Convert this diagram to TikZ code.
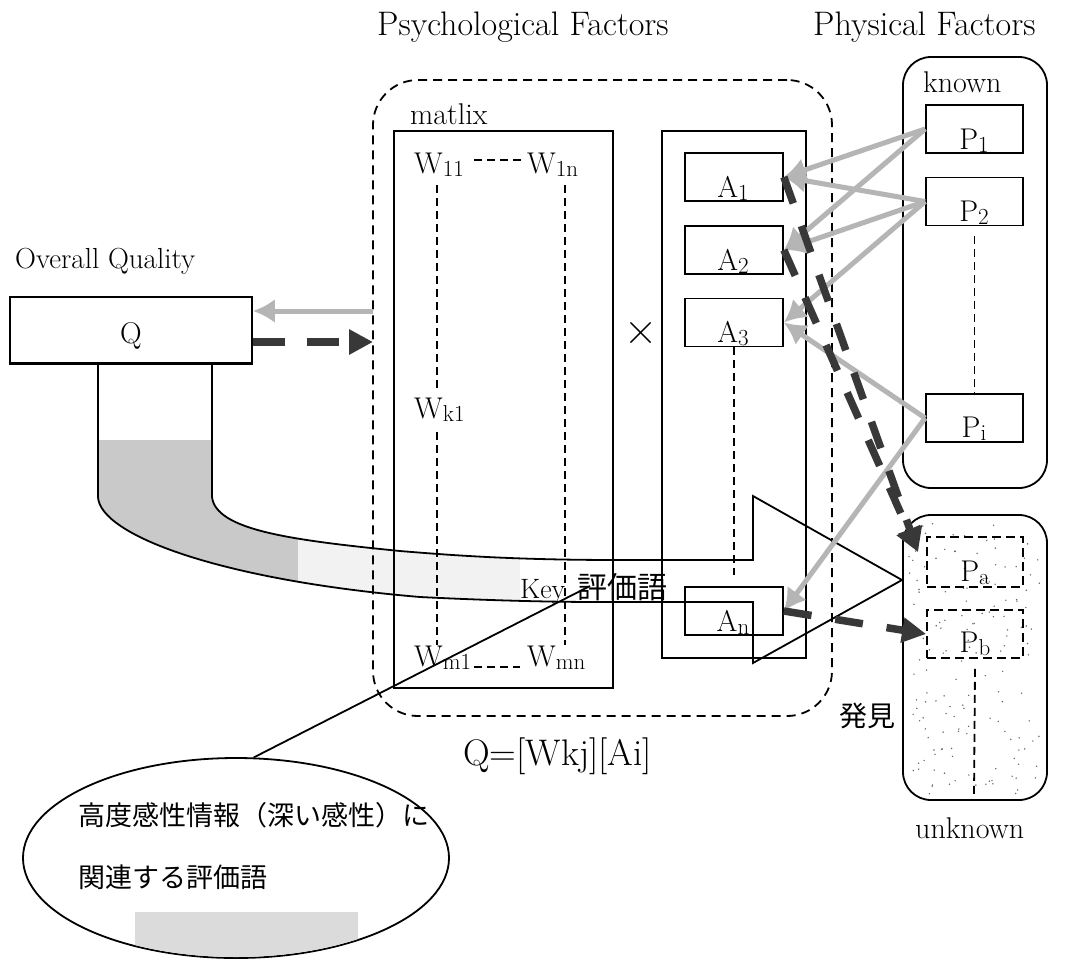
\documentclass[tikz,border=0pt]{standalone}
\usepackage{fontspec}
\newfontfamily\cjk{Noto Sans CJK JP}
\usetikzlibrary{arrows.meta,calc,shapes.geometric}
\newcommand\labfont{\fontsize{30}{34}\selectfont}
\newcommand\hdrfont{\fontsize{34}{38}\selectfont}
\newcommand\mysub[1]{\raisebox{-3pt}{\fontsize{23}{23}\selectfont #1}}
\newcommand\pipeshape{(98,363) -- (98,497) .. controls (100,535) and (220,580) .. (420,597) .. controls (500,601) and (560,602) .. (600,602) -- (753,602) -- (753,663) -- (902,580) -- (753,496) -- (753,560) -- (620,560) .. controls (520,560) and (460,556) .. (400,551) .. controls (290,540) and (216,530) .. (212,497) -- (212,363)}
\begin{document}
\begin{tikzpicture}[x=1pt,y=-1pt,
  box/.style={draw, line width=1.7, inner sep=0},
  dbox/.style={draw, line width=1.8, dash pattern=on 9 off 5, inner sep=0},
  lab/.style={anchor=base, font=\labfont, inner sep=0},
  labw/.style={anchor=base west, font=\labfont, inner sep=0},
  hdr/.style={anchor=base west, font=\hdrfont, inner sep=0},
  thindash/.style={line width=1.5, dash pattern=on 8 off 5},
  garrow/.style={draw=gray!58, line width=5, -{Latex[length=22,width=24]}},
  darrow/.style={draw=black!78, line width=7.5, dash pattern=on 28 off 24, -{Triangle[length=24,width=24]}},
  qdash/.style={draw=black!78, line width=7.5, dash pattern=on 32 off 22, -{Triangle[length=24,width=24]}}
]
\useasboundingbox (0,0) rectangle (1065,962);
\fill[white] (0,0) rectangle (1065,962);

% fills of the pipe
\begin{scope}
  \clip \pipeshape -- cycle;
  \fill[gray!42] (90,440) rectangle (298,640);
  \fill[gray!10] (298,530) rectangle (520,615);
\end{scope}

% dots in unknown box
\pgfmathsetseed{7}
\foreach \k in {1,...,150}{
  \pgfmathsetmacro\xx{909+132*rnd}
  \pgfmathsetmacro\yy{521+273*rnd}
  \fill[black!60] (\xx,\yy) circle (0.8);
}

% headers
\node[hdr] (psyt) at (377,35) {Psychological Factors};
\node[hdr] (phyt) at (813,35) {Physical Factors};
\node[labw, font=\fontsize{29}{34}\selectfont] (oq) at (15,268) {Overall Quality};

% Q box
\node[box, minimum width=242, minimum height=66] (Q) at (131,330) {};
\node[lab] (Qt) at (131,343) {Q};

% psychological container
\node[draw, line width=1.8, dash pattern=on 9 off 6, rounded corners=45, minimum width=459, minimum height=636, inner sep=0] (psy) at (602.5,398) {};
\node[labw] (matt) at (410,124) {matlix};
\node[box, minimum width=219, minimum height=557] (mat) at (503.5,409.5) {};
\node[box, minimum width=144, minimum height=527] (av) at (734,394.5) {};

% W entries
\node[labw] (w11) at (414,173) {W\mysub{11}};
\node[labw] (w1n) at (527,173) {W\mysub{1n}};
\node[labw] (wk1) at (414,418) {W\mysub{k1}};
\node[labw] (wm1) at (414,666) {W\mysub{m1}};
\node[labw] (wmn) at (527,666) {W\mysub{mn}};
\draw[thindash] (474,160) -- (522,160);
\draw[thindash] (474,667) -- (520,667);
\draw[thindash] (437,185) -- (437,392);
\draw[thindash] (437,432) -- (437,645);
\draw[thindash] (565,185) -- (565,645);

\node[font=\fontsize{46}{46}\selectfont, inner sep=0] (times) at (641,333) {×};

% A boxes
\node[box, minimum width=98, minimum height=48] (A1) at (734,177) {};
\node[box, minimum width=98, minimum height=48] (A2) at (734,250) {};
\node[box, minimum width=98, minimum height=48] (A3) at (734,322.5) {};
\node[box, minimum width=98, minimum height=48] (An) at (734,611) {};
\node[lab] (A1t) at (733,197) {A\mysub{1}};
\node[lab] (A2t) at (733,270) {A\mysub{2}};
\node[lab] (A3t) at (733,342) {A\mysub{3}};
\node[lab] (Ant) at (733,631) {A\mysub{n}};
\coordinate (a3end) at (734,575);
\draw[thindash] (A3.south) -- (a3end);

% known container
\node[draw, line width=1.8, rounded corners=28, minimum width=144, minimum height=431, inner sep=0] (kn) at (975,272.5) {};
\node[labw] (knt) at (923,92) {known};
\node[box, minimum width=97, minimum height=48] (P1) at (974.5,129) {};
\node[box, minimum width=97, minimum height=48] (P2) at (974.5,201.5) {};
\node[box, minimum width=97, minimum height=48] (Pi) at (974.5,418) {};
\node[lab] (P1t) at (974,149) {P\mysub{1}};
\node[lab] (P2t) at (974,221) {P\mysub{2}};
\node[lab] (Pit) at (974,437) {P\mysub{i}};
\draw[thindash] ($(P2.south)+(0,10)$) -- (Pi.north);

% unknown container
\node[draw, line width=1.8, rounded corners=28, minimum width=144, minimum height=285, inner sep=0] (unk) at (975,657.5) {};
\node[dbox, minimum width=96, minimum height=50] (Pa) at (975,562) {};
\node[dbox, minimum width=96, minimum height=48] (Pb) at (975,634) {};
\node[lab] (Pat) at (975,581) {P\mysub{a}};
\node[lab] (Pbt) at (975,652) {P\mysub{b}};
\coordinate (unkend) at (974,795);
\draw[thindash, line width=1.8] ($(Pb.south)+(0,10)$) -- (unkend);
\node[labw] (unkt) at (915,838) {unknown};
\node[font=\cjk\fontsize{28}{28}\selectfont, inner sep=0] (hakken) at (867,716) {発見};

% pipe / big arrow
\draw[line width=1.8] \pipeshape;
\draw[box] (Q.south west) -- (Q.south east);

% Key label
\node[anchor=base west, inner sep=0, font=\fontsize{28}{28}\selectfont] (key) at (520,598) {Key\hspace{12pt}{\cjk\fontsize{30}{30}\selectfont 評価語}};

% formula
\node[anchor=base west, inner sep=0, font=\fontsize{37}{40}\selectfont] (form) at (463,765) {Q=[Wkj][Ai]};

% callout ellipse
\node[draw, ellipse, line width=1.8, minimum width=426, minimum height=200, inner sep=0] (ell) at (236,858) {};
\begin{scope}
  \clip (236,858) ellipse [x radius=212, y radius=99];
  \fill[gray!28] (135,912) rectangle (358,965);
\end{scope}
\node[anchor=base west, inner sep=0, font=\cjk\fontsize{27}{27}\selectfont] (e1) at (78,825) {高度感性情報（深い感性）に};
\node[anchor=base west, inner sep=0, font=\cjk\fontsize{27}{27}\selectfont] (e2) at (78,887) {関連する評価語};
\coordinate (keyend) at (590,586);
\draw[line width=1.8] (ell.80) -- (keyend);

% Q arrows
\coordinate (qb) at (373,311);
\coordinate (qa) at (373,342);
\draw[garrow] (qb) -- (Q.east |- qb);
\draw[qdash] (Q.east |- qa) -- (qa);

% gray arrows P -> A
\draw[garrow] (P1.west) -- (A1.east);
\draw[garrow] (P1.west) -- (A2.east);
\draw[garrow] (P2.west) -- (A1.east);
\draw[garrow] (P2.west) -- (A2.east);
\draw[garrow] (P2.west) -- (A3.east);
\draw[garrow] (Pi.west) -- (A3.east);
\draw[garrow] (Pi.west) -- (An.east);

% dark dashed arrows A -> P (discovery)
\coordinate (pain) at (918,552);
\draw[darrow] (A1.east) -- (pain);
\draw[darrow] (A2.east) -- (pain);
\draw[darrow] (An.east) -- (Pb.west);
\end{tikzpicture}
\end{document}
